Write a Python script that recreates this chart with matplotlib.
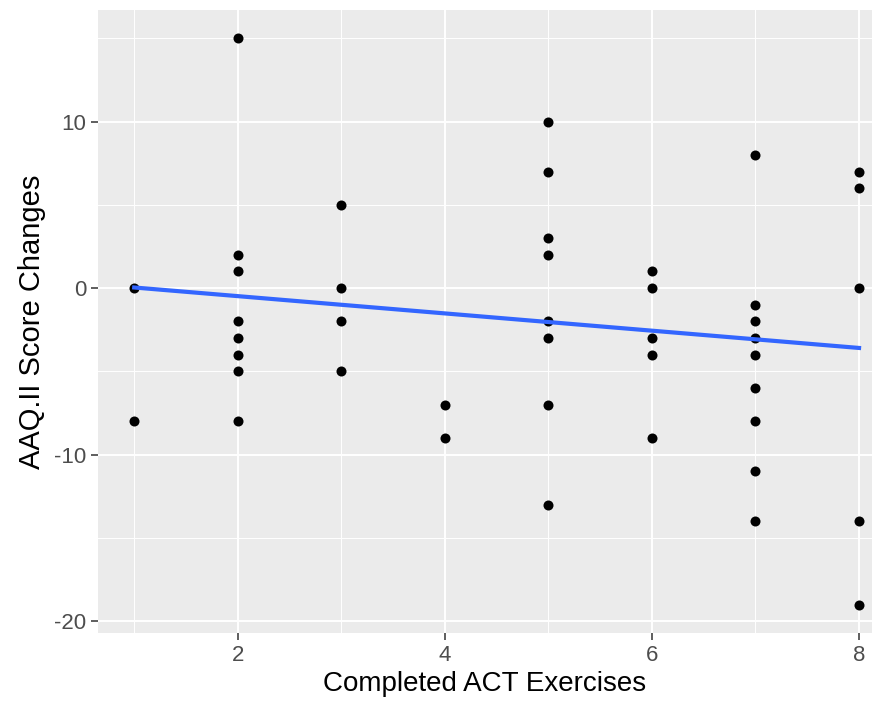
import matplotlib.pyplot as plt
import numpy as np

plt.rcParams['font.family'] = ['Liberation Sans', 'DejaVu Sans']
plt.rcParams['axes.unicode_minus'] = False

# completed exercises and the matching score changes, grouped per exercise count
exercises = [1, 1,
             2, 2, 2, 2, 2, 2, 2, 2,
             3, 3, 3, 3,
             4, 4,
             5, 5, 5, 5, 5, 5, 5, 5,
             6, 6, 6, 6, 6,
             7, 7, 7, 7, 7, 7, 7, 7, 7,
             8, 8, 8, 8, 8]
score_changes = [0, -8,
                 15, 2, 1, -2, -3, -4, -5, -8,
                 5, 0, -2, -5,
                 -7, -9,
                 10, 7, 3, 2, -2, -3, -7, -13,
                 1, 0, -3, -4, -9,
                 8, -1, -2, -3, -4, -6, -8, -11, -14,
                 7, 6, 0, -14, -19]

# linear trend (value at 1 and at 8 exercises)
trend_x = [1, 8]
trend_y = [0.04, -3.59]

x_ticks = [2, 4, 6, 8]
y_ticks = [-20, -10, 0, 10]


def main():
    fig = plt.figure(figsize=(8.74, 7.07), dpi=100)
    ax = fig.add_axes([0.1121, 0.1047, 0.8856, 0.8812])
    ax.set_facecolor('#EBEBEB')

    # ggplot style grid
    for xv in np.arange(1, 9, 1):
        lw = 1.4 if xv in x_ticks else 0.7
        ax.axvline(xv, color='white', lw=lw, zorder=0)
    for yv in np.arange(-20, 16, 5):
        lw = 1.4 if yv in y_ticks else 0.7
        ax.axhline(yv, color='white', lw=lw, zorder=0)

    ax.scatter(exercises, score_changes, s=52, color='black', zorder=3, linewidths=0)
    ax.plot(trend_x, trend_y, color='#3366FF', lw=3, zorder=4)

    ax.set_xlim(0.65, 8.125)
    ax.set_ylim(-20.7, 16.7)
    ax.set_xticks(x_ticks)
    ax.set_yticks(y_ticks)
    ax.tick_params(axis='both', colors='#333333', labelcolor='#4D4D4D',
                   labelsize=16, length=5, width=1.1)
    for s in ax.spines.values():
        s.set_visible(False)

    ax.set_xlabel('Completed ACT Exercises', fontsize=20, labelpad=4)
    ax.set_ylabel('AAQ.II Score Changes', fontsize=21, labelpad=6)

    fig.savefig('out.png', dpi=100)


if __name__ == '__main__':
    main()
